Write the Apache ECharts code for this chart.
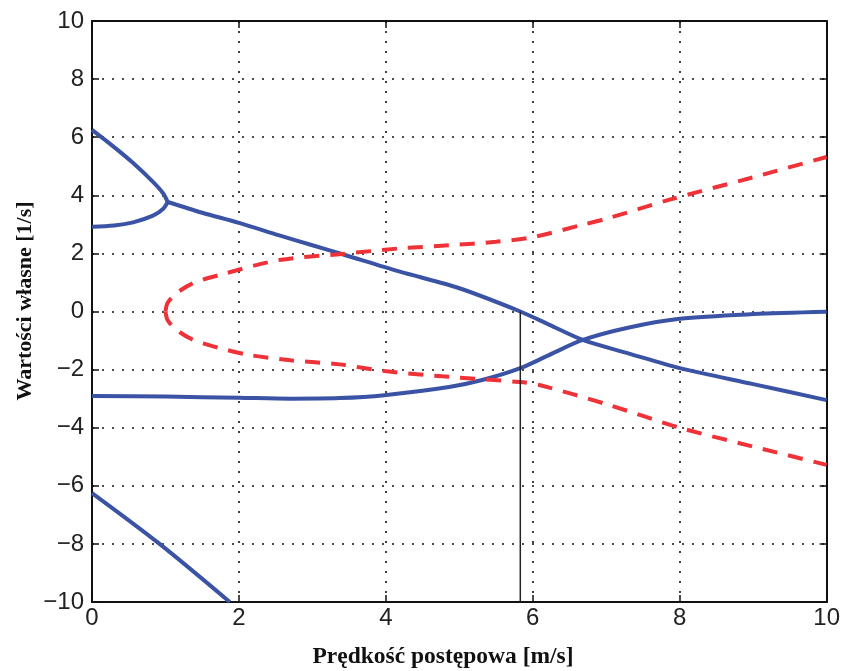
<!DOCTYPE html>
<html>
<head>
<meta charset="utf-8">
<script src="https://cdn.jsdelivr.net/npm/echarts@6/dist/echarts.min.js"></script>
<style>
html,body{margin:0;padding:0;background:#fff;}
#main{width:843px;height:671px;}
</style>
</head>
<body>
<div id="main"></div>
<script>
// ---- data ----
const xTicks = [0, 2, 4, 6, 8, 10];
const yTicks = [-10, -8, -6, -4, -2, 0, 2, 4, 6, 8, 10];

// blue solid curves
const blueUpperBranch = [[0, 6.25], [0.28, 5.7], [0.56, 5.11], [0.83, 4.46], [0.97, 4.06], [1.03, 3.77]];
const blueLowerBranch = [[0, 2.92], [0.3, 2.96], [0.56, 3.07], [0.83, 3.3], [0.97, 3.54], [1.03, 3.77]];
const blueFalling = [[1.03, 3.77], [1.5, 3.4], [2, 3.05], [2.55, 2.62], [3.0, 2.28], [3.4, 1.98], [4.18, 1.38], [5, 0.8],
  [5.83, 0], [6.22, -0.45], [6.68, -0.98], [7.31, -1.45], [8, -1.95], [9, -2.5], [10, -3.05]];
const blueRising = [[0, -2.91], [1, -2.93], [2, -2.97], [2.7, -3.0], [3.37, -2.98], [3.98, -2.88], [4.86, -2.6],
  [5.31, -2.36], [5.83, -1.95], [6.22, -1.5], [6.68, -0.98], [7.31, -0.55], [8, -0.25], [9, -0.09], [10, -0.01]];
const blueSteep = [[0, -6.25], [0.92, -8.0], [1.875, -10]];

// red dashed curve (upper and lower halves, both starting at the nose)
const redUpper = [[1.0, 0], [1.03, 0.3], [1.15, 0.63], [1.38, 0.98], [1.74, 1.26], [2.55, 1.77], [3.4, 1.98],
  [4.18, 2.17], [4.87, 2.28], [5.5, 2.4], [6.0, 2.56], [6.67, 2.98], [7.04, 3.22], [7.85, 3.84], [9, 4.62], [10, 5.32]];
const redLower = [[1.0, 0], [1.03, -0.3], [1.15, -0.63], [1.38, -0.98], [1.74, -1.26], [2.15, -1.5], [2.7, -1.68],
  [3.37, -1.82], [3.98, -2.05], [4.86, -2.25], [5.82, -2.43], [6.09, -2.53], [7.04, -3.22], [8, -4.0], [9, -4.65], [10, -5.28]];

// vertical marker line
const markerX = 5.83;
const markerSpan = [0, -10];

// ---- chart ----
const BLUE = '#3b53a5';
const RED = '#ef3237';

const chart = echarts.init(document.getElementById('main'), null, {renderer: 'canvas'});

const gridLine = {show: true, lineStyle: {color: '#111', width: 1.6, type: [2, 8]}};
const tickLbl = {color: '#222', fontFamily: 'Liberation Sans, Arial, sans-serif', fontSize: 24};
const minus = v => (v < 0 ? '\u2212' + Math.abs(v) : String(v));
const frameAxis = {
  axisLine: {show: true, onZero: false, lineStyle: {color: '#111', width: 2}},
  axisTick: {show: true, inside: true, length: 7, lineStyle: {color: '#111', width: 1.5}}
};

function blue(data) {
  return {type: 'line', data: data, smooth: 0.3, showSymbol: false,
    lineStyle: {color: BLUE, width: 4}};
}
function red(data) {
  return {type: 'line', data: data, smooth: 0.3, showSymbol: false,
    lineStyle: {color: RED, width: 4, type: [15, 11]}};
}

const option = {
  backgroundColor: '#fff',
  animation: false,
  grid: {left: 92, right: 15, top: 21, bottom: 69, containLabel: false},
  xAxis: [
    Object.assign({type: 'value', min: xTicks[0], max: xTicks[xTicks.length - 1], interval: 2, position: 'bottom',
      axisLabel: Object.assign({margin: 4, formatter: minus}, tickLbl), splitLine: gridLine}, frameAxis),
    Object.assign({type: 'value', min: xTicks[0], max: xTicks[xTicks.length - 1], interval: 2, position: 'top',
      axisLabel: {show: false}, splitLine: {show: false}}, frameAxis)
  ],
  yAxis: [
    Object.assign({type: 'value', min: yTicks[0], max: yTicks[yTicks.length - 1], interval: 2, position: 'left',
      axisLabel: Object.assign({margin: 8, formatter: minus}, tickLbl), splitLine: gridLine}, frameAxis),
    Object.assign({type: 'value', min: yTicks[0], max: yTicks[yTicks.length - 1], interval: 2, position: 'right',
      axisLabel: {show: false}, splitLine: {show: false}}, frameAxis)
  ],
  graphic: [
    {type: 'text', x: 443, y: 657,
      style: {text: 'Prędkość postępowa [m/s]', fill: '#111', align: 'center', verticalAlign: 'middle',
        font: 'bold 23.5px "Liberation Serif", "Times New Roman", serif'}},
    {type: 'text', x: 25, y: 301, rotation: Math.PI / 2,
      style: {text: 'Wartości własne [1/s]', fill: '#111', align: 'center', verticalAlign: 'middle',
        font: 'bold 22px "Liberation Serif", "Times New Roman", serif'}}
  ],
  series: [
    blue(blueUpperBranch),
    blue(blueLowerBranch),
    blue(blueFalling),
    blue(blueRising),
    blue(blueSteep),
    red(redUpper),
    red(redLower),
    {type: 'line', data: markerSpan.map(v => [markerX, v]), showSymbol: false,
      lineStyle: {color: '#222', width: 1.5}}
  ]
};
chart.setOption(option);
</script>
</body>
</html>
